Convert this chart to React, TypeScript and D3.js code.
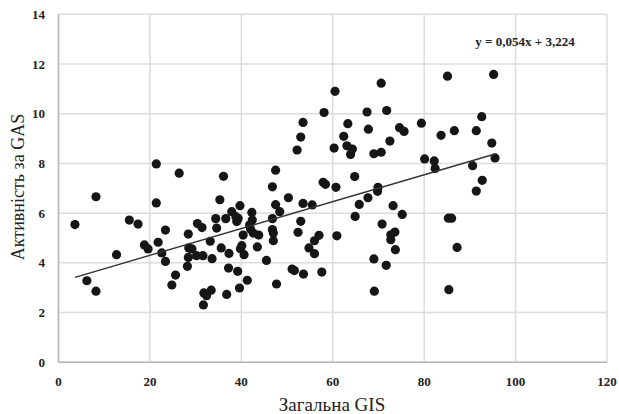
import React from 'react';
import * as d3 from 'd3';

// GIS (x) vs GAS (y)
const gisValues = [
  3.6, 6.2, 8.2, 8.2, 12.7, 15.5, 17.4, 18.8, 19.6, 21.4, 21.4, 21.8, 22.6, 23.4, 23.4, 24.8, 25.6, 26.4,
  28.4, 28.5, 28.4, 28.2, 29.2, 30.4, 31.4, 30.2, 31.6, 31.8, 31.7, 32.4, 33.2, 33.6, 33.4, 34.4, 34.6,
  35.3, 35.6, 36.1, 36.6, 36.8, 37.2, 37.3, 37.9, 38.8, 39.3, 39.0, 39.2, 39.6, 39.7, 39.8, 40.1, 40.4,
  40.6, 41.3, 42.0, 42.3, 42.4, 42.6, 41.8, 43.5, 43.8, 45.5, 46.8, 46.8, 46.8, 47.0, 47.0, 47.5, 47.5,
  47.7, 48.4, 50.3, 51.1, 51.6, 52.2, 52.4, 53.0, 53.0, 53.5, 53.5, 53.6, 54.8, 55.5, 56.0, 56.0, 57.0,
  57.6, 58.1, 57.9, 58.4, 60.3, 60.5, 60.7, 60.9, 62.4, 63.1, 63.3, 63.9, 64.3, 64.8, 64.9, 65.8, 67.5,
  67.8, 67.7, 69.0, 69.0, 69.1, 69.8, 69.9, 70.6, 70.6, 70.8, 71.8, 71.7, 72.5, 72.7, 72.7, 73.2, 73.6,
  73.7, 74.6, 75.2, 75.6, 79.4, 80.1, 82.2, 82.4, 83.7, 85.1, 85.3, 86.0, 85.4, 86.6, 87.2, 90.6, 91.4,
  91.4, 92.6, 92.7, 94.8, 95.2, 95.5,
];
const gasValues = [
  5.54, 3.28, 6.66, 2.86, 4.33, 5.72, 5.56, 4.72, 4.56, 7.98, 6.41, 4.83, 4.40, 5.32, 4.06, 3.11, 3.51, 7.61,
  5.16, 4.60, 4.22, 3.86, 4.56, 5.58, 5.42, 4.29, 4.29, 2.79, 2.31, 2.68, 4.87, 4.17, 2.90, 5.78, 5.40,
  6.54, 4.60, 7.48, 5.78, 2.73, 3.79, 4.38, 6.06, 5.86, 5.79, 5.66, 3.66, 2.99, 6.30, 4.57, 4.69, 5.12,
  4.33, 3.30, 5.36, 6.03, 5.72, 5.20, 5.52, 4.64, 5.12, 4.10, 7.06, 5.78, 5.34, 5.20, 4.89, 7.73, 6.34,
  3.15, 6.06, 6.62, 3.75, 3.69, 8.54, 5.23, 5.67, 9.06, 9.65, 6.39, 3.55, 4.60, 6.33, 4.89, 4.37, 5.11,
  3.63, 10.05, 7.24, 7.16, 8.62, 10.90, 7.04, 5.09, 9.09, 8.71, 9.60, 8.36, 8.58, 7.47, 5.87, 6.35, 10.07,
  9.38, 6.62, 8.39, 4.16, 2.86, 6.88, 7.04, 11.23, 8.45, 5.56, 10.13, 3.90, 8.90, 4.93, 5.13, 6.30, 5.24,
  4.53, 9.44, 5.95, 9.29, 9.62, 8.18, 8.10, 7.80, 9.13, 11.51, 5.80, 5.80, 2.92, 9.32, 4.62, 7.91, 6.89,
  9.32, 9.88, 7.32, 8.82, 11.58, 8.22,
];
const xTicks = [0, 20, 40, 60, 80, 100, 120];
const yTicks = [0, 2, 4, 6, 8, 10, 12, 14];
const slope = 0.054;
const intercept = 3.224;
const trendLabel = 'y = 0,054x + 3,224';
const xTitle = 'Загальна GIS';
const yTitle = 'Активність за GAS';

const W = 619;
const H = 414;
const plot = { left: 58.5, right: 607, top: 14.3, bottom: 362.3 };
const serif = '"Liberation Serif", "Times New Roman", serif';

export default function App() {
  const x = d3.scaleLinear().domain([0, 120]).range([plot.left, plot.right]);
  const y = d3.scaleLinear().domain([0, 14]).range([plot.bottom, plot.top]);
  const points = gisValues.map((v, i) => [v, gasValues[i]] as [number, number]);
  const xMin = d3.min(gisValues) as number;
  const xMax = d3.max(gisValues) as number;
  const trend = d3.line<number>()
    .x(d => x(d))
    .y(d => y(slope * d + intercept))([xMin, xMax]);

  return (
    <div style={{ position: 'absolute', left: 0, top: 0 }}>
      <svg width={W} height={H} style={{ display: 'block', background: '#fff' }}>
        {/* grid */}
        {yTicks.map(t => (
          <line key={'gy' + t} x1={plot.left} x2={plot.right} y1={y(t)} y2={y(t)}
            stroke="#dcdcdc" strokeWidth={1.5} />
        ))}
        {xTicks.map(t => (
          <line key={'gx' + t} x1={x(t)} x2={x(t)} y1={plot.top} y2={plot.bottom}
            stroke="#dcdcdc" strokeWidth={1.5} />
        ))}
        {/* axes */}
        <line x1={plot.left} x2={plot.left} y1={plot.top} y2={plot.bottom} stroke="#b8b8b8" strokeWidth={1.5} />
        <line x1={plot.left} x2={plot.right} y1={plot.bottom} y2={plot.bottom} stroke="#b8b8b8" strokeWidth={1.5} />

        {/* tick labels */}
        {yTicks.map(t => (
          <text key={'ty' + t} x={45} y={y(t)} dy="0.35em" textAnchor="end"
            fontFamily={serif} fontWeight="bold" fontSize={13} fill="#222">{t}</text>
        ))}
        {xTicks.map(t => (
          <text key={'tx' + t} x={x(t)} y={386} textAnchor="middle"
            fontFamily={serif} fontWeight="bold" fontSize={13} fill="#222">{t}</text>
        ))}

        {/* points */}
        {points.map((p, i) => (
          <circle key={i} cx={x(p[0])} cy={y(p[1])} r={4.6} fill="#161616" />
        ))}

        {/* trend line */}
        <path d={trend || ''} fill="none" stroke="#333" strokeWidth={1.4} />
        <text x={525} y={46} textAnchor="middle" fontFamily={serif} fontWeight="bold"
          fontSize={13} fill="#222">{trendLabel}</text>

        {/* titles */}
        <text x={332} y={411} textAnchor="middle" fontFamily={serif} fontSize={19} fill="#222">{xTitle}</text>
        <text transform="translate(24,187) rotate(-90)" textAnchor="middle" fontFamily={serif}
          fontSize={18} fill="#222">{yTitle}</text>
      </svg>
    </div>
  );
}
